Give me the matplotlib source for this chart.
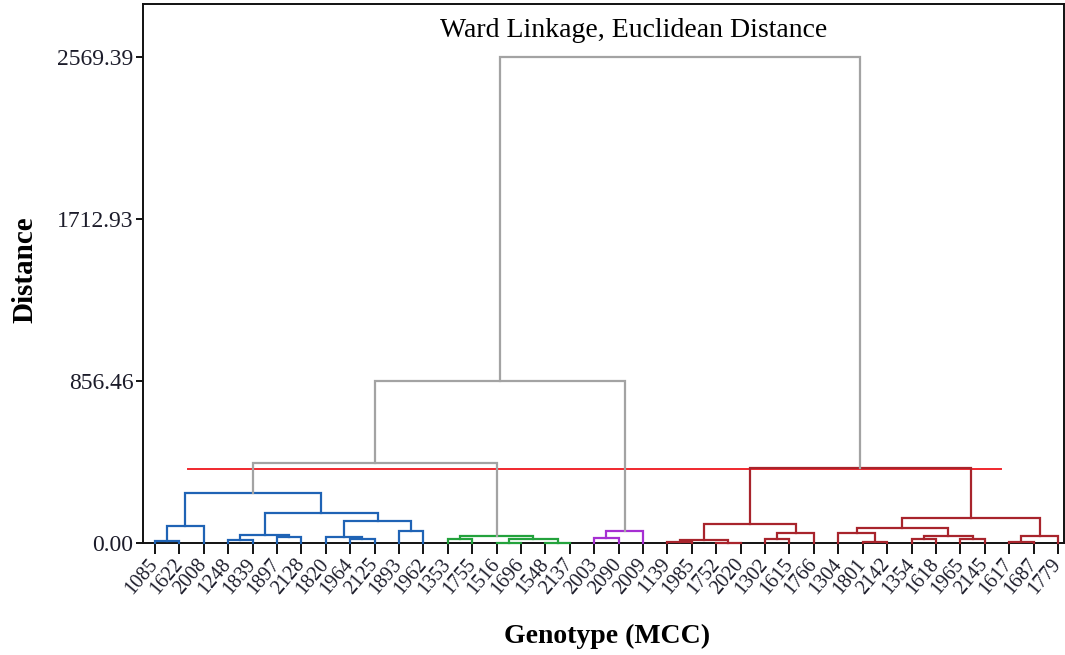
"""Ward-linkage dendrogram of 38 MCC genotypes, coloured by cluster.

Draws the merge tree from a small linkage table, colours each link by the
cluster its leaves belong to (grey when a link joins clusters) and marks the
cut height with a red line.
"""

import matplotlib

matplotlib.use("Agg")  # headless
import matplotlib.pyplot as plt  # noqa: E402

LEAF_LABELS = [
    "1085", "1622", "2008", "1248", "1839", "1897", "2128", "1820", "1964",
    "2125", "1893", "1962", "1353", "1755", "1516", "1696", "1548", "2137",
    "2003", "2090", "2009", "1139", "1985", "1752", "2020", "1302", "1615",
    "1766", "1304", "1801", "2142", "1354", "1618", "1965", "2145", "1617",
    "1687", "1779",
]

# leaves per cluster, in leaf order, and the colour of each cluster
CLUSTER_SIZES = [12, 6, 3, 17]
CLUSTER_COLORS = ["#1f63b5", "#23a23c", "#a62fd2", "#a8242c"]
JOIN_COLOR = "#a3a3a3"

# (child a, child b, height); ids >= 38 point at earlier rows (38 = first row)
MERGES = [
    (0, 1, 10), (38, 2, 90), (3, 4, 16), (5, 6, 32), (40, 41, 42),
    (8, 9, 21), (7, 43, 32), (10, 11, 63), (44, 45, 116), (42, 46, 159),
    (39, 47, 264),
    (12, 13, 21), (14, 15, 0), (16, 17, 0), (50, 51, 21), (49, 52, 39),
    (18, 19, 28), (54, 20, 65),
    (21, 22, 7), (23, 24, 0), (56, 57, 18), (25, 26, 21), (59, 27, 53),
    (58, 60, 100), (29, 30, 7), (28, 62, 53), (31, 32, 21), (33, 34, 21),
    (64, 65, 37), (63, 66, 81), (35, 36, 7), (68, 37, 37), (67, 69, 131),
    (61, 70, 397),
    (48, 53, 423), (72, 55, 856.46), (73, 71, 2569.39),
]

CUT_HEIGHT = 391
CUT_SPAN = (1.35, 34.67)
Y_TICKS = [0.0, 856.46, 1712.93, 2569.39]

FONT = "Liberation Serif"


def leaf_clusters():
    out = []
    for k, size in enumerate(CLUSTER_SIZES):
        out += [k] * size
    return out


def link_segments(n, merges):
    """Return (xs, ys, leaf set) for every link, scipy-dendrogram style."""
    x = {i: float(i) for i in range(n)}
    y = {i: 0.0 for i in range(n)}
    leaves = {i: {i} for i in range(n)}
    segs = []
    for k, (a, b, h) in enumerate(merges):
        node = n + k
        leaves[node] = leaves[a] | leaves[b]
        segs.append(([x[a], x[a], x[b], x[b]], [y[a], h, h, y[b]], leaves[node]))
        x[node] = (x[a] + x[b]) / 2
        y[node] = h
    return segs


def main() -> None:
    n = len(LEAF_LABELS)
    clusters = leaf_clusters()

    fig = plt.figure(figsize=(10.65, 6.55), dpi=100)
    ax = fig.add_axes([0.1343, 0.171, 0.8648, 0.8229])

    for xs, ys, members in link_segments(n, MERGES):
        ids = {clusters[i] for i in members}
        color = CLUSTER_COLORS[ids.pop()] if len(ids) == 1 else JOIN_COLOR
        ax.plot(xs, ys, color=color, lw=1.6, zorder=3, clip_on=False,
                solid_joinstyle="miter")

    ax.plot(CUT_SPAN, [CUT_HEIGHT, CUT_HEIGHT], color="#f0282e", lw=1.4, zorder=2)

    ax.set_xlim(-0.49, 37.25)
    ax.set_ylim(0, 2850)

    ax.set_yticks(Y_TICKS)
    ax.set_yticklabels([f"{v:.2f}" for v in Y_TICKS], fontsize=17,
                       family=FONT, color="#1c1c2a")
    ax.set_xticks(range(n))
    ax.set_xticklabels(LEAF_LABELS, rotation=50, ha="right", va="center",
                       rotation_mode="anchor", fontsize=14.5, family=FONT,
                       color="#1c1c2a")
    ax.tick_params(axis="y", length=5, width=1.3, pad=2)
    ax.tick_params(axis="x", length=8, width=1.3, pad=5)
    for spine in ax.spines.values():
        spine.set_linewidth(1.4)
        spine.set_color("#111111")

    fig.text(0.595, 0.953, "Ward Linkage, Euclidean Distance", ha="center",
             va="center", fontsize=20, family=FONT)
    fig.text(0.57, 0.029, "Genotype (MCC)", ha="center", va="center",
             fontsize=20, family=FONT, weight="bold")
    fig.text(0.0235, 0.588, "Distance", ha="center", va="center",
             rotation=90, fontsize=21, family=FONT, weight="bold")

    fig.savefig("out.png", dpi=100)
    plt.close(fig)


if __name__ == "__main__":
    main()
